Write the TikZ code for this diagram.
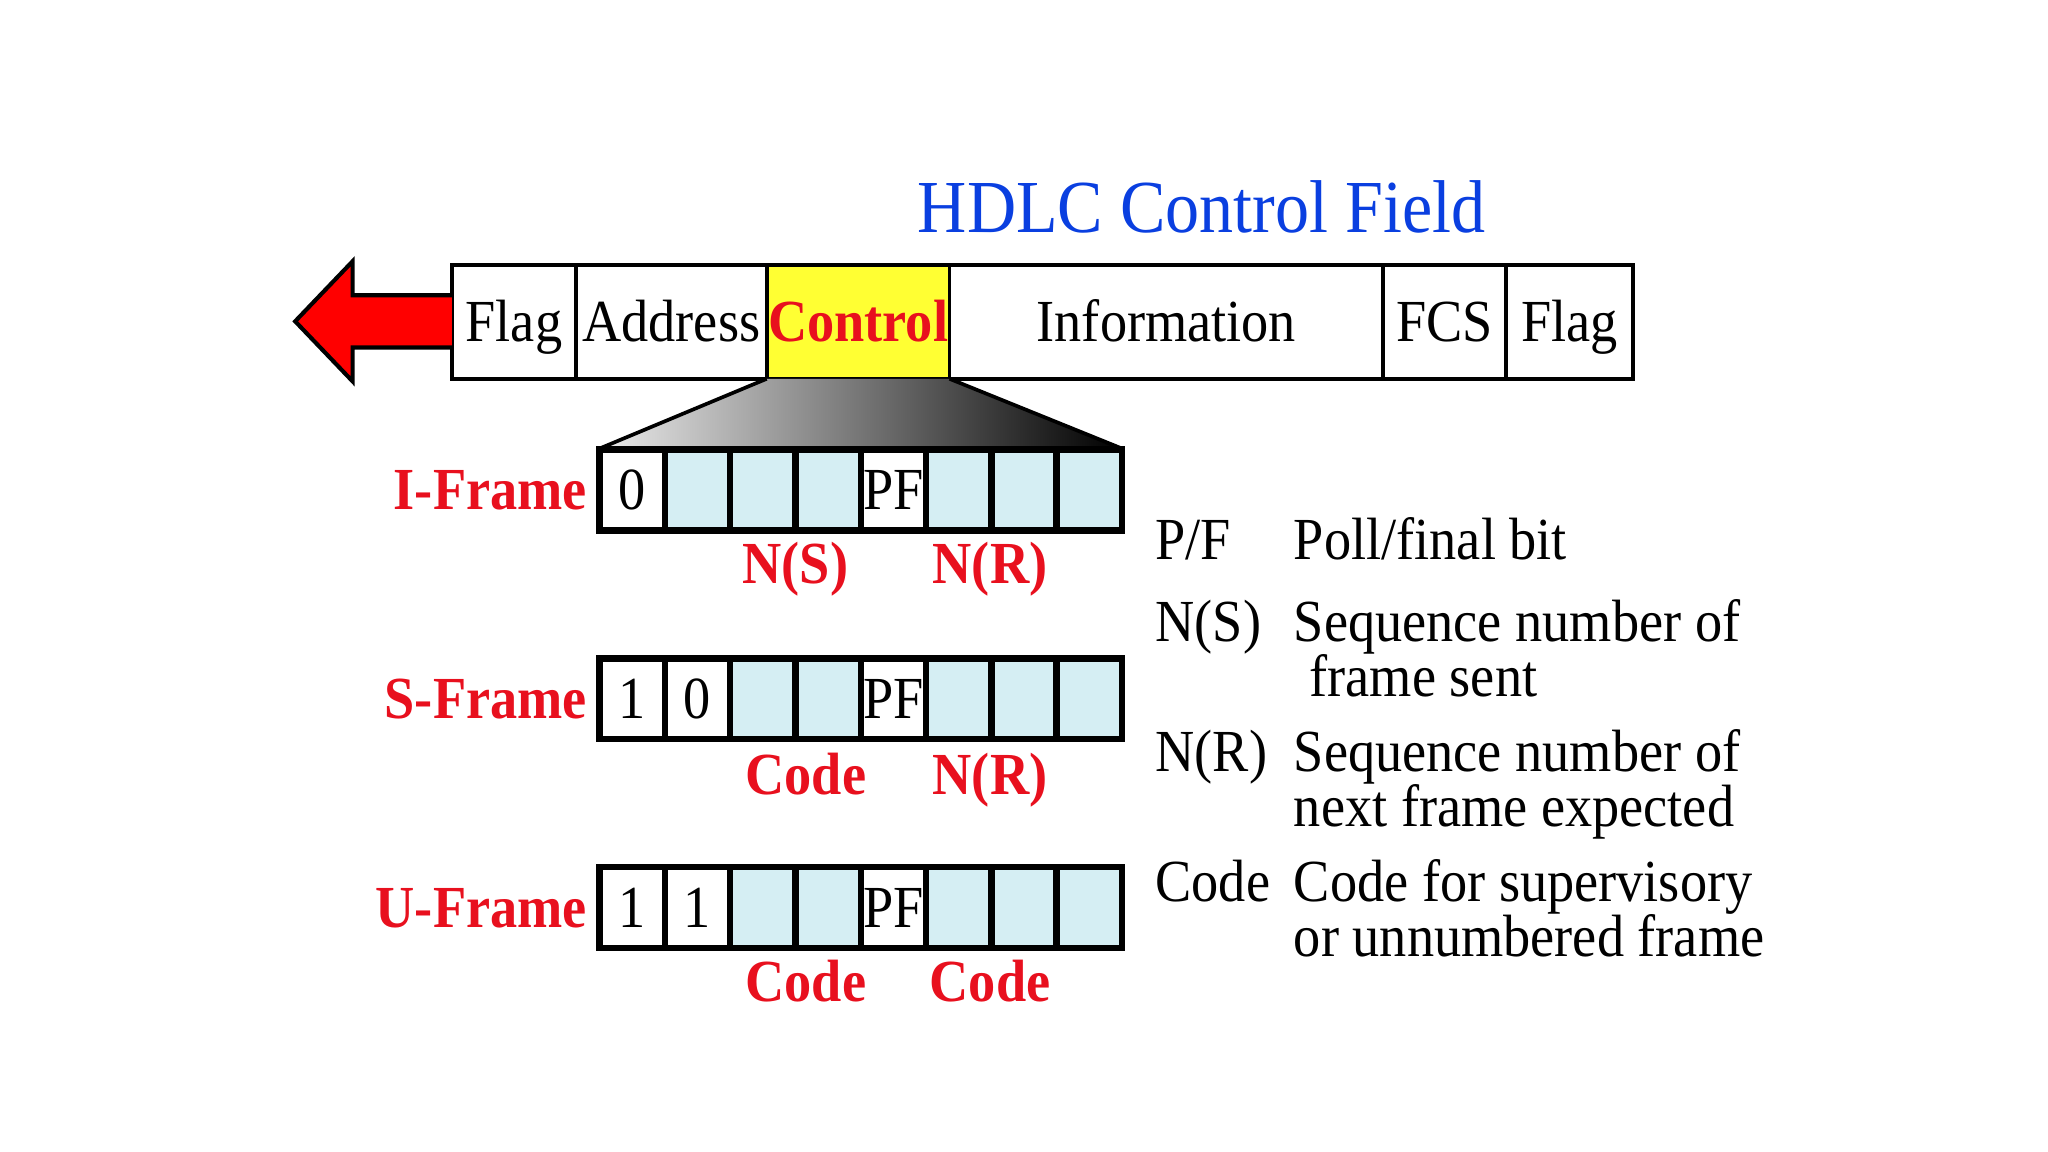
\documentclass[tikz,border=0pt]{standalone}
\usepackage{fontspec}
\setmainfont[FakeStretch=0.91]{Liberation Serif}
\usetikzlibrary{positioning}
\definecolor{hdRed}{HTML}{E8101E}
\definecolor{hdYellow}{HTML}{FFFF33}
\definecolor{hdCell}{HTML}{D5EEF3}
\definecolor{hdBlue}{HTML}{0A3FE0}
\newcommand\hdfont{\fontsize{13pt}{12pt}\selectfont}
\tikzset{
  field/.style={
    draw, line width=0.8pt, minimum height=8.7mm, inner sep=0pt, outer sep=0pt,
    text height=8.6pt, text depth=0pt, font=\hdfont
  },
  ctrlfield/.style={field, fill=hdYellow, text=hdRed, font=\hdfont\bfseries},
  bitb/.style={
    draw, line width=1.4pt, fill=hdCell, minimum width=5mm, minimum height=6.2mm,
    inner sep=0pt, outer sep=0pt, text height=8.6pt, text depth=0pt, font=\hdfont
  },
  bitw/.style={bitb, fill=white},
  framelbl/.style={font=\hdfont\bfseries, text=hdRed, text height=8.6pt, text depth=0pt, inner sep=0pt},
  sublbl/.style={font=\hdfont\bfseries, text=hdRed, anchor=base, inner sep=0pt},
  legkey/.style={font=\hdfont, anchor=base west, inner sep=0pt},
  legtxt/.style={font=\hdfont, anchor=base west, align=left, inner sep=0pt},
  sendarrow/.style={draw=black, line width=0.9pt, fill=red, line join=miter}
}
\begin{document}
\begin{tikzpicture}[x=0.1mm, y=-0.1mm]
  \useasboundingbox (0,0) rectangle (1568,882);
  % title
  \node[font=\fontsize{16.3pt}{18pt}\selectfont, text=hdBlue, anchor=base, inner sep=0pt]
    (title) at (920,178) {HDLC Control Field};

  % frame fields
  \foreach \nm/\xa/\xb/\st/\txt in {
    fFlagA/346/441/field/Flag,
    fAddr/441/587/field/Address,
    fCtrl/587/727/ctrlfield/Control,
    fInfo/727/1059/field/Information,
    fFCS/1059/1153/field/FCS,
    fFlagB/1153/1250/field/Flag}{
    \node[\st, minimum width={(\xb-\xa)*0.1mm}] (\nm) at ({(\xa+\xb)/2},246.5) {\txt};
  }

  % direction of transmission
  \draw[sendarrow] (fFlagA.west |- 0,226) -- (270,226) -- (270,200) -- (226,246)
    -- (270,292) -- (270,266) -- (fFlagA.west |- 0,266);

  % zoom wedge below the control field
  \coordinate (wedgeL) at (460,343);
  \coordinate (wedgeR) at (858,343);
  \shade[left color=black!8, right color=black] (fCtrl.south west) -- (fCtrl.south east)
    -- (wedgeR) -- (wedgeL) -- cycle;
  \draw[line width=0.8pt] (wedgeL) -- (fCtrl.south west) (fCtrl.south east) -- (wedgeR);

  % the three control field formats
  \foreach \rw/\yc/\cells in {
    I/375/{bitw/0,bitb/,bitb/,bitb/,bitw/PF,bitb/,bitb/,bitb/},
    S/535/{bitw/1,bitw/0,bitb/,bitb/,bitw/PF,bitb/,bitb/,bitb/},
    U/695/{bitw/1,bitw/1,bitb/,bitb/,bitw/PF,bitb/,bitb/,bitb/}}{
    \foreach \st/\v [count=\j] in \cells {
      \node[\st] (\rw\j) at ({484+50*(\j-1)},\yc) {\v};
    }
    \node[framelbl, left=0.9mm of \rw1] (lbl\rw) {\rw-Frame};
  }

  % field names under the bits
  \node[sublbl] (nsI)   at (609,447) {N(S)};
  \node[sublbl] (nrI)   at (758,447) {N(R)};
  \node[sublbl] (codeS) at (617,608) {Code};
  \node[sublbl] (nrS)   at (758,608) {N(R)};
  \node[sublbl] (codeU) at (617,767) {Code};
  \node[sublbl] (codeU2) at (758,767) {Code};

  % legend (base of a two-line text is its last line)
  \node[legkey] (kPF)   at (884,428) {P/F};
  \node[legtxt] (tPF)   at (990,428) {Poll/final bit};
  \node[legkey] (kNS)   at (884,491) {N(S)};
  \node[legtxt] (tNS)   at (990,533) {Sequence number of\\\hspace*{1.2mm}frame sent};
  \node[legkey] (kNR)   at (884,591) {N(R)};
  \node[legtxt] (tNR)   at (990,633) {Sequence number of\\next frame expected};
  \node[legkey] (kCode) at (884,690) {Code};
  \node[legtxt] (tCode) at (990,732) {Code for supervisory\\or unnumbered frame};
\end{tikzpicture}
\end{document}
